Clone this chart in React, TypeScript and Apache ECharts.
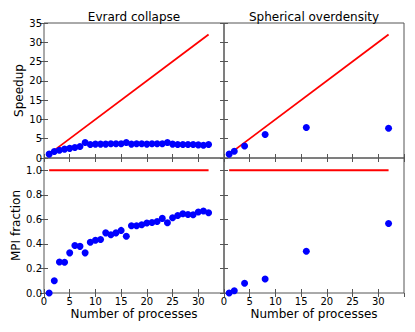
import React, { useEffect, useRef } from "react";
import * as echarts from "echarts";

const evrardProcs = Array.from({ length: 32 }, (_, i) => i + 1);
const evrardSpeedup = [
  1.0, 1.7, 2.0, 2.3, 2.5, 2.7, 3.0, 4.0, 3.5, 3.6, 3.6, 3.6, 3.7, 3.7, 3.7, 4.0,
  3.6, 3.7, 3.7, 3.6, 3.7, 3.7, 3.7, 4.0, 3.6, 3.5, 3.5, 3.5, 3.5, 3.4, 3.3, 3.5,
];
const evrardMpi = [
  0.0, 0.1, 0.253, 0.25, 0.327, 0.387, 0.38, 0.327, 0.414, 0.43, 0.436, 0.49, 0.474,
  0.49, 0.51, 0.463, 0.548, 0.548, 0.556, 0.57, 0.575, 0.583, 0.608, 0.572, 0.613,
  0.632, 0.646, 0.64, 0.638, 0.66, 0.668, 0.654,
];
const sphProcs = [1, 2, 4, 8, 16, 32];
const sphSpeedup = [1.0, 1.73, 3.1, 6.07, 7.9, 7.7];
const sphMpi = [0.0, 0.019, 0.079, 0.114, 0.34, 0.567];
const idealSpeedup = [
  [1, 1],
  [32, 32],
];
const idealMpi = [
  [1, 1],
  [32, 1],
];
const panelTitles = ["Evrard collapse", "Spherical overdensity"];
const xName = "Number of processes";
const yNames = ["Speedup", "MPI fraction"];

const FONT = "DejaVu Sans";
const FRAME = "#555";

export default function App() {
  const ref = useRef<HTMLDivElement>(null);
  useEffect(() => {
    if (!ref.current) return;
    const chart = echarts.init(ref.current, undefined, { renderer: "svg" });
    const L = 44, M = 224, T = 23, W = 180, H = 135;
    const grids = [
      { left: L, top: T, width: W, height: H },
      { left: M, top: T, width: W, height: H },
      { left: L, top: T + H, width: W, height: H },
      { left: M, top: T + H, width: W, height: H },
    ].map((g) => ({ ...g, show: true, borderColor: FRAME, borderWidth: 1, backgroundColor: "transparent" }));

    const tick = { show: true, inside: true, length: 4, lineStyle: { color: FRAME, width: 1 } };
    const labelStyle = { color: "#000", fontFamily: FONT, fontSize: 10 };

    const xAxes: any[] = [];
    const yAxes: any[] = [];
    for (let g = 0; g < 4; g++) {
      const bottomRow = g >= 2;
      for (const pos of ["bottom", "top"]) {
        const showLabel = bottomRow && pos === "bottom";
        xAxes.push({
          type: "value",
          gridIndex: g,
          position: pos,
          min: 0,
          max: 35,
          interval: 5,
          axisLine: { show: false },
          axisTick: tick,
          splitLine: { show: false },
          axisLabel: { show: showLabel, ...labelStyle, margin: 3, showMaxLabel: false },
          name: showLabel ? xName : "",
          nameLocation: "middle",
          nameGap: 15,
          nameTextStyle: { color: "#000", fontFamily: FONT, fontSize: 12 },
        });
      }
      for (const pos of ["left", "right"]) {
        const showLabel = g % 2 === 0 && pos === "left";
        yAxes.push({
          type: "value",
          gridIndex: g,
          position: pos,
          min: 0,
          max: bottomRow ? 1.1 : 35,
          interval: bottomRow ? 0.2 : 5,
          axisLine: { show: false },
          axisTick: tick,
          splitLine: { show: false },
          axisLabel: {
            show: showLabel,
            ...labelStyle,
            margin: 2,
            showMaxLabel: !bottomRow,
            formatter: bottomRow ? (v: number) => v.toFixed(1) : (v: number) => String(v),
          },
          name: showLabel ? yNames[bottomRow ? 1 : 0] : "",
          nameLocation: "middle",
          nameGap: bottomRow ? 20 : 16,
          nameTextStyle: { color: "#000", fontFamily: FONT, fontSize: 12 },
        });
      }
    }

    const scatter = (g: number, xs: number[], ys: number[]) => ({
      type: "scatter",
      xAxisIndex: g * 2,
      yAxisIndex: g * 2,
      data: xs.map((x, i) => [x, ys[i]]),
      symbol: "circle",
      symbolSize: 7,
      itemStyle: { color: "#0000ff", opacity: 1 },
      z: 3,
      clip: false,
    });
    const line = (g: number, d: number[][]) => ({
      type: "line",
      xAxisIndex: g * 2,
      yAxisIndex: g * 2,
      data: d,
      symbol: "none",
      lineStyle: { color: "#ff0000", width: 1.8 },
      z: 2,
    });

    chart.setOption({
      animation: false,
      grid: grids,
      xAxis: xAxes,
      yAxis: yAxes,
      graphic: [
        {
          type: "text",
          x: L + W / 2,
          y: 17,
          style: { text: panelTitles[0], textAlign: "center", textVerticalAlign: "middle", font: `12px '${FONT}'`, fill: "#000" },
        },
        {
          type: "text",
          x: M + W / 2,
          y: 17,
          style: { text: panelTitles[1], textAlign: "center", textVerticalAlign: "middle", font: `12px '${FONT}'`, fill: "#000" },
        },
      ],
      series: [
        line(0, idealSpeedup),
        scatter(0, evrardProcs, evrardSpeedup),
        line(1, idealSpeedup),
        scatter(1, sphProcs, sphSpeedup),
        line(2, idealMpi),
        scatter(2, evrardProcs, evrardMpi),
        line(3, idealMpi),
        scatter(3, sphProcs, sphMpi),
      ],
    });
    return () => chart.dispose();
  }, []);
  return (
    <div
      ref={ref}
      style={{ position: "fixed", left: 0, top: 0, width: 415, height: 332, background: "#fff" }}
    />
  );
}
